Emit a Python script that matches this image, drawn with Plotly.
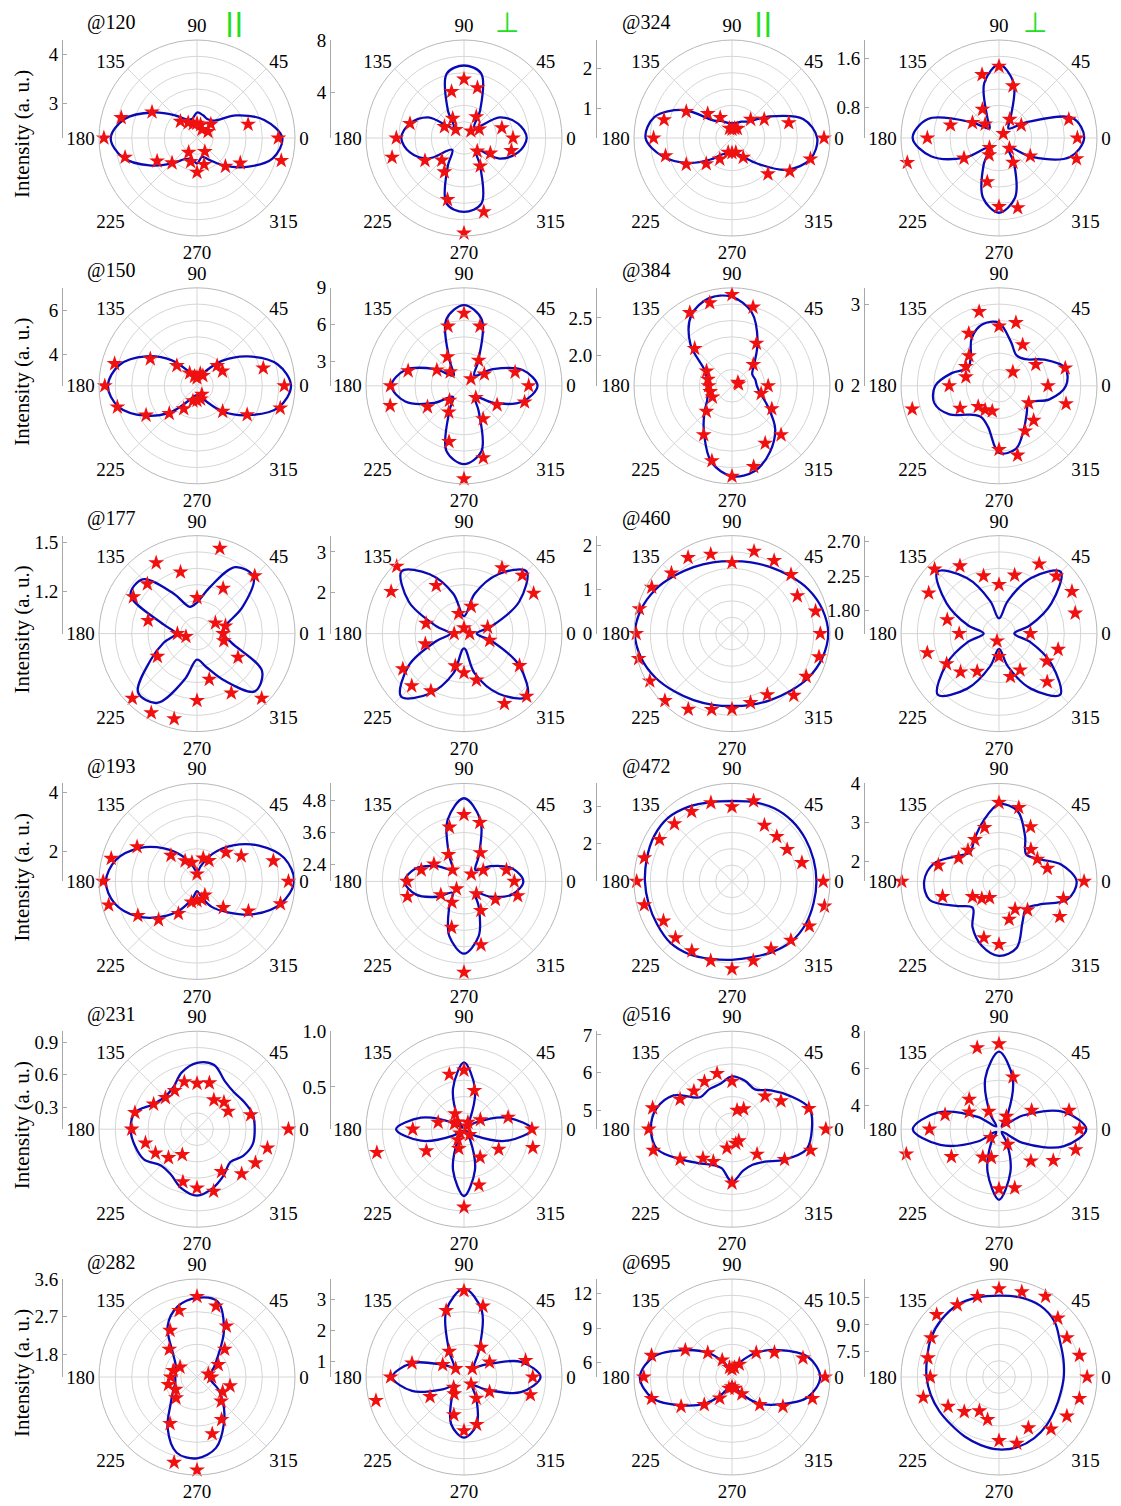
import plotly.graph_objects as go

W, H = 1121, 1506
ANGLES = list(range(0, 360, 15))
ANGLE_LABELS = ["0", "45", "90", "135", "180", "225", "270", "315"]

# Raman modes shown in each row (left pair of columns / right pair of columns)
modes_left = ["@120", "@150", "@177", "@193", "@231", "@282"]
modes_right = ["@324", "@384", "@460", "@472", "@516", "@695"]

# ---------------- row 1 ----------------
rng_120_par = [2.3, 4.3]
tk_120_par = ["3", "4"]
fit_120_par = [4.04, 3.72, 3.22, 2.80, 2.74, 2.78, 2.82, 2.70, 2.74, 2.96, 3.34, 3.82,
               4.06, 3.86, 3.42, 3.04, 2.80, 2.74, 2.82, 2.70, 2.82, 3.10, 3.48, 3.90]
pts_120_par = [3.96, 3.38, 2.56, 2.70, 2.50, 2.58, 2.60, 2.60, 2.66, 2.78, 3.36, 3.90,
               4.20, 3.82, 3.24, 3.02, 2.64, 2.80, 3.00, 2.86, 2.62, 3.12, 3.32, 4.08]

rng_120_per = [0.5, 8.0]
tk_120_per = ["4", "8"]
fit_120_per = [5.30, 4.78, 3.65, 1.63, 2.98, 5.60, 6.05, 5.60, 2.98, 1.63, 3.65, 4.78,
               5.30, 4.78, 3.65, 1.78, 2.98, 5.68, 6.16, 5.68, 2.98, 1.78, 3.65, 4.78]
pts_120_per = [4.25, 3.50, 1.85, 1.25, 2.38, 4.48, 5.00, 4.18, 2.23, 1.40, 2.23, 4.78,
               5.68, 6.20, 3.95, 2.90, 3.50, 5.38, 7.78, 6.35, 2.98, 1.93, 2.83, 4.25]

rng_324_par = [0.25, 2.7]
tk_324_par = ["1", "2"]
fit_324_par = [2.38, 2.09, 1.33, 0.84, 0.72, 0.64, 0.62, 0.64, 0.74, 0.86, 1.65, 2.26,
               2.41, 2.04, 1.50, 1.01, 0.72, 0.64, 0.59, 0.64, 0.79, 1.16, 1.84, 2.28]
pts_324_par = [2.55, 1.72, 1.18, 0.91, 0.52, 0.50, 0.47, 0.50, 0.84, 1.11, 1.57, 2.01,
               2.21, 1.97, 1.57, 1.16, 0.86, 0.62, 0.62, 0.62, 0.81, 1.52, 1.92, 2.28]

rng_324_per = [0.3, 1.9]
tk_324_per = ["0.8", "1.6"]
fit_324_per = [1.69, 1.55, 0.81, 0.52, 0.68, 1.23, 1.50, 1.23, 0.68, 0.52, 0.81, 1.50,
               1.71, 1.45, 0.94, 0.52, 0.80, 1.31, 1.52, 1.31, 0.80, 0.52, 0.92, 1.50]
pts_324_per = [1.58, 1.48, 0.72, 0.40, 0.65, 1.18, 1.47, 1.37, 0.84, 0.62, 0.80, 1.12,
               1.47, 1.85, 0.96, 0.52, 0.62, 1.04, 1.42, 1.48, 0.76, 0.54, 0.89, 1.61]

# ---------------- row 2 ----------------
rng_150_par = [2.6, 7.0]
tk_150_par = ["4", "6"]
fit_150_par = [6.82, 6.34, 5.24, 4.18, 3.35, 3.04, 2.93, 3.04, 3.35, 4.23, 5.24, 6.21,
               6.60, 6.25, 5.28, 4.27, 3.39, 3.08, 3.02, 3.08, 3.39, 4.23, 5.24, 6.38]
pts_150_par = [6.52, 5.68, 3.92, 3.88, 3.13, 3.17, 2.95, 3.04, 3.26, 3.88, 5.02, 6.43,
               6.74, 6.30, 5.24, 4.36, 3.79, 3.30, 3.26, 3.22, 3.04, 4.23, 5.20, 6.47]

rng_150_per = [1.0, 9.0]
tk_150_per = ["3", "6", "9"]
fit_150_per = [7.00, 5.96, 3.72, 2.20, 3.32, 6.60, 7.58, 6.60, 3.32, 2.20, 3.72, 5.96,
               6.92, 5.96, 3.80, 2.28, 3.40, 6.52, 7.40, 6.52, 3.40, 2.28, 3.80, 5.96]
pts_150_per = [6.28, 5.32, 2.92, 1.80, 3.40, 6.04, 6.92, 6.04, 3.72, 2.60, 3.56, 5.72,
               7.00, 7.24, 4.44, 2.68, 3.48, 5.72, 8.60, 7.08, 4.12, 2.36, 4.12, 6.12]

rng_384_par = [1.6, 2.9]
tk_384_par = ["2.0", "2.5"]
fit_384_par = [1.93, 1.92, 1.91, 2.02, 2.28, 2.61, 2.78, 2.80, 2.68, 2.38, 2.02, 1.94,
               1.89, 1.93, 1.98, 2.12, 2.34, 2.65, 2.80, 2.77, 2.61, 2.41, 2.15, 1.99]
pts_384_par = [2.08, 1.69, 1.69, 2.00, 2.25, 2.68, 2.81, 2.74, 2.72, 2.30, 1.99, 1.93,
               1.91, 1.90, 1.90, 2.08, 2.35, 2.63, 2.80, 2.71, 2.48, 2.52, 2.21, 2.00]

rng_384_per = [2.0, 3.2]
tk_384_per = ["2", "3"]
fit_384_per = [2.82, 2.84, 2.64, 2.46, 2.43, 2.56, 2.77, 2.78, 2.67, 2.49, 2.44, 2.60,
               2.78, 2.82, 2.70, 2.50, 2.44, 2.52, 2.82, 2.80, 2.61, 2.48, 2.42, 2.64]
pts_384_per = [2.60, 2.84, 2.52, 2.24, 2.58, 2.80, 2.73, 2.94, 2.74, 2.52, 2.47, 2.42,
               2.61, 3.10, 2.55, 2.36, 2.34, 2.32, 2.78, 2.88, 2.64, 2.60, 2.42, 2.85]

# ---------------- row 3 ----------------
rng_177_par = [0.94, 1.54]
tk_177_par = ["1.2", "1.5"]
fit_177_par = [1.10, 1.12, 1.26, 1.43, 1.41, 1.23, 1.13, 1.11, 1.22, 1.41, 1.41, 1.15,
               1.07, 1.15, 1.27, 1.45, 1.43, 1.23, 1.10, 1.15, 1.27, 1.44, 1.40, 1.16]
pts_177_par = [1.10, 1.12, 1.07, 1.44, 1.26, 1.48, 1.16, 1.33, 1.44, 1.37, 1.39, 1.25,
               1.06, 1.01, 1.22, 1.50, 1.50, 1.48, 1.35, 1.23, 1.36, 1.50, 1.23, 1.11]

rng_177_per = [1.0, 3.4]
tk_177_per = ["1", "2", "3"]
fit_177_per = [1.31, 1.70, 2.56, 3.16, 2.68, 2.01, 1.43, 2.01, 2.68, 3.16, 2.56, 1.70,
               1.34, 1.70, 2.56, 3.18, 2.70, 2.01, 1.36, 2.01, 2.70, 3.18, 2.56, 1.70]
pts_177_per = [1.14, 1.60, 2.97, 3.02, 2.86, 1.69, 1.14, 1.51, 2.36, 3.33, 3.06, 1.96,
               1.24, 1.98, 2.73, 2.81, 2.62, 1.82, 1.96, 2.18, 2.98, 3.17, 2.57, 1.65]

rng_460_par = [0.0, 2.22]
tk_460_par = ["0", "1", "2"]
fit_460_par = [2.18, 2.12, 2.00, 1.85, 1.74, 1.67, 1.64, 1.67, 1.74, 1.85, 2.00, 2.13,
               2.20, 2.13, 2.00, 1.85, 1.74, 1.67, 1.64, 1.67, 1.74, 1.85, 2.00, 2.12]
pts_460_par = [2.00, 1.96, 1.71, 1.89, 1.91, 1.93, 1.61, 1.86, 1.99, 1.94, 2.10, 2.17,
               2.17, 2.19, 2.15, 2.15, 1.98, 1.78, 1.71, 1.62, 1.60, 1.98, 1.94, 2.04]

rng_460_per = [1.5, 2.78]
tk_460_per = ["1.80", "2.25", "2.70"]
fit_460_per = [1.70, 1.92, 2.29, 2.64, 2.34, 1.94, 1.70, 1.94, 2.34, 2.64, 2.29, 1.92,
               1.70, 1.92, 2.29, 2.63, 2.33, 1.94, 1.70, 1.94, 2.33, 2.63, 2.29, 1.92]
pts_460_per = [1.91, 2.53, 2.60, 2.56, 2.55, 2.29, 2.14, 2.28, 2.52, 2.69, 2.56, 2.20,
               2.02, 2.47, 2.29, 2.21, 2.07, 1.60, 1.80, 2.08, 2.05, 2.39, 2.22, 2.30]

# ---------------- row 4 ----------------
rng_193_par = [1.0, 4.3]
tk_193_par = ["2", "4"]
fit_193_par = [4.27, 4.04, 3.41, 2.72, 2.09, 1.56, 1.31, 1.53, 1.99, 2.57, 3.24, 3.82,
               4.07, 3.87, 3.34, 2.68, 2.09, 1.59, 1.33, 1.53, 1.99, 2.47, 3.21, 3.92]
pts_193_par = [4.08, 3.66, 2.72, 2.38, 1.81, 1.81, 1.25, 1.66, 1.80, 2.24, 3.33, 3.99,
               4.16, 4.08, 3.30, 2.83, 2.25, 1.72, 1.65, 1.63, 1.53, 2.25, 3.00, 3.91]

rng_193_per = [1.75, 5.45]
tk_193_per = ["2.4", "3.6", "4.8"]
fit_193_per = [3.99, 3.64, 2.91, 2.36, 2.87, 4.15, 4.89, 4.15, 2.87, 2.36, 2.91, 3.64,
               3.99, 3.64, 2.91, 2.36, 2.87, 3.89, 4.48, 3.89, 2.87, 2.36, 2.91, 3.64]
pts_193_per = [3.65, 3.41, 2.59, 2.14, 3.00, 4.05, 4.27, 3.87, 2.92, 2.36, 3.06, 3.42,
               3.90, 3.96, 2.76, 2.15, 2.66, 3.55, 5.18, 4.23, 3.02, 2.41, 3.12, 3.85]

rng_472_par = [1.0, 3.6]
tk_472_par = ["2", "3"]
fit_472_par = [3.24, 3.24, 3.25, 3.26, 3.24, 3.18, 3.13, 3.18, 3.29, 3.39, 3.39, 3.34,
               3.31, 3.29, 3.29, 3.31, 3.24, 3.13, 3.08, 3.08, 3.16, 3.24, 3.26, 3.24]
pts_472_par = [3.42, 2.92, 2.69, 2.68, 2.72, 3.21, 2.98, 3.16, 3.14, 3.16, 3.22, 3.41,
               3.53, 3.41, 3.10, 3.12, 3.13, 3.18, 3.32, 3.18, 3.07, 3.21, 3.37, 3.54]

rng_472_per = [1.5, 4.0]
tk_472_per = ["2", "3", "4"]
fit_472_per = [3.48, 3.15, 2.65, 2.48, 2.83, 3.35, 3.47, 3.08, 2.75, 2.55, 2.78, 3.23,
               3.41, 3.33, 2.75, 2.45, 2.85, 3.20, 3.40, 3.25, 2.70, 2.48, 2.68, 3.30]
pts_472_per = [3.67, 2.78, 2.63, 2.65, 3.11, 3.45, 3.51, 2.92, 2.73, 2.62, 2.69, 3.10,
               3.98, 2.99, 2.28, 2.12, 1.98, 2.99, 3.11, 2.50, 2.32, 2.53, 3.29, 3.20]

# ---------------- row 5 ----------------
rng_231_par = [0.1, 1.0]
tk_231_par = ["0.3", "0.6", "0.9"]
fit_231_par = [0.63, 0.63, 0.60, 0.58, 0.61, 0.71, 0.71, 0.64, 0.54, 0.52, 0.56, 0.69,
               0.71, 0.69, 0.66, 0.57, 0.58, 0.66, 0.71, 0.66, 0.59, 0.53, 0.59, 0.63]
pts_231_par = [0.94, 0.61, 0.43, 0.45, 0.41, 0.54, 0.52, 0.55, 0.51, 0.51, 0.56, 0.69,
               0.70, 0.59, 0.54, 0.47, 0.37, 0.60, 0.64, 0.69, 0.55, 0.68, 0.72, 0.77]

rng_231_per = [0.12, 1.0]
tk_231_per = ["0.5", "1.0"]
fit_231_per = [0.73, 0.52, 0.24, 0.14, 0.23, 0.50, 0.72, 0.50, 0.23, 0.14, 0.24, 0.52,
               0.73, 0.52, 0.24, 0.14, 0.23, 0.50, 0.72, 0.50, 0.23, 0.14, 0.24, 0.52]
pts_231_per = [0.73, 0.53, 0.29, 0.16, 0.19, 0.48, 0.65, 0.63, 0.28, 0.21, 0.22, 0.36,
               0.58, 0.93, 0.51, 0.17, 0.23, 0.30, 0.82, 0.64, 0.41, 0.19, 0.48, 0.76]

rng_516_par = [4.5, 7.1]
tk_516_par = ["5", "6", "7"]
fit_516_par = [6.62, 6.63, 6.27, 5.96, 5.72, 5.83, 5.90, 5.74, 5.72, 5.70, 6.29, 6.58,
               6.65, 6.55, 6.09, 5.77, 5.59, 5.57, 5.90, 5.64, 5.59, 5.72, 6.11, 6.55]
pts_516_par = [6.99, 6.61, 6.00, 5.74, 5.12, 5.02, 5.77, 6.03, 5.96, 5.93, 6.09, 6.68,
               6.71, 6.66, 6.09, 5.59, 5.49, 5.02, 5.93, 4.89, 4.86, 5.44, 6.11, 6.66]

rng_516_per = [2.7, 8.0]
tk_516_per = ["4", "6", "8"]
fit_516_per = [7.42, 6.30, 4.18, 2.91, 3.65, 5.56, 6.89, 5.56, 3.65, 2.91, 4.03, 6.15,
               7.36, 5.99, 4.03, 2.91, 3.55, 5.09, 6.52, 5.09, 3.55, 2.91, 4.18, 6.30]
pts_516_per = [7.05, 6.62, 4.74, 3.23, 3.50, 5.62, 7.31, 7.26, 3.81, 4.98, 4.56, 5.72,
               6.46, 7.89, 5.67, 3.34, 4.45, 4.29, 5.93, 5.99, 3.65, 5.14, 6.09, 6.99]

# ---------------- row 6 ----------------
rng_282_par = [1.25, 3.6]
tk_282_par = ["1.8", "2.7", "3.6"]
fit_282_par = [1.53, 1.58, 1.72, 1.96, 2.54, 3.13, 3.15, 3.01, 2.66, 2.07, 1.84, 1.77,
               1.77, 1.79, 1.91, 2.14, 2.66, 3.13, 3.20, 3.01, 2.54, 2.14, 1.84, 1.60]
pts_282_par = [1.60, 1.53, 1.84, 2.19, 2.66, 3.01, 3.18, 2.90, 2.54, 2.19, 1.72, 1.84,
               1.88, 1.96, 1.84, 1.96, 2.54, 3.37, 3.48, 2.66, 2.43, 2.07, 1.96, 2.07]

rng_282_per = [0.5, 3.65]
tk_282_per = ["1", "2", "3"]
fit_282_per = [2.96, 2.39, 1.29, 0.97, 1.45, 2.71, 3.34, 2.71, 1.45, 0.97, 1.29, 2.23,
               2.80, 2.23, 1.29, 0.88, 1.29, 2.08, 2.45, 2.08, 1.29, 0.88, 1.29, 2.39]
pts_282_per = [2.71, 2.55, 1.45, 0.88, 1.60, 2.86, 3.27, 2.71, 1.45, 0.88, 1.29, 2.23,
               2.86, 3.43, 1.76, 0.97, 1.13, 1.76, 2.23, 2.08, 1.29, 0.82, 1.45, 2.71]

rng_695_par = [4.7, 13.3]
tk_695_par = ["6", "9", "12"]
fit_695_par = [12.44, 11.58, 9.43, 7.71, 6.25, 5.39, 5.13, 5.39, 6.25, 7.71, 9.43, 11.75,
               12.78, 11.92, 9.69, 7.97, 6.42, 5.56, 5.22, 5.56, 6.42, 7.97, 9.52, 11.58]
pts_695_par = [12.87, 11.15, 9.00, 7.71, 5.99, 5.56, 5.39, 5.56, 6.42, 7.71, 9.43, 12.01,
               12.44, 12.01, 9.86, 8.14, 6.85, 5.73, 5.56, 5.73, 6.42, 8.14, 9.86, 12.01]

rng_695_per = [6.1, 11.55]
tk_695_per = ["7.5", "9.0", "10.5"]
fit_695_per = [9.70, 9.81, 10.02, 10.46, 10.68, 10.68, 10.62, 10.68, 10.73, 10.62, 10.46, 10.24,
               10.13, 10.02, 9.92, 9.86, 9.92, 10.02, 10.13, 10.13, 10.02, 9.86, 9.70, 9.64]
pts_695_per = [11.00, 10.73, 10.46, 10.73, 11.28, 11.00, 11.00, 10.73, 10.73, 11.00, 10.46, 10.19,
               9.92, 10.46, 9.37, 8.83, 8.28, 8.55, 9.64, 9.92, 9.37, 10.19, 10.46, 10.73]

panels = [
    [(rng_120_par, tk_120_par, fit_120_par, pts_120_par), (rng_120_per, tk_120_per, fit_120_per, pts_120_per),
     (rng_324_par, tk_324_par, fit_324_par, pts_324_par), (rng_324_per, tk_324_per, fit_324_per, pts_324_per)],
    [(rng_150_par, tk_150_par, fit_150_par, pts_150_par), (rng_150_per, tk_150_per, fit_150_per, pts_150_per),
     (rng_384_par, tk_384_par, fit_384_par, pts_384_par), (rng_384_per, tk_384_per, fit_384_per, pts_384_per)],
    [(rng_177_par, tk_177_par, fit_177_par, pts_177_par), (rng_177_per, tk_177_per, fit_177_per, pts_177_per),
     (rng_460_par, tk_460_par, fit_460_par, pts_460_par), (rng_460_per, tk_460_per, fit_460_per, pts_460_per)],
    [(rng_193_par, tk_193_par, fit_193_par, pts_193_par), (rng_193_per, tk_193_per, fit_193_per, pts_193_per),
     (rng_472_par, tk_472_par, fit_472_par, pts_472_par), (rng_472_per, tk_472_per, fit_472_per, pts_472_per)],
    [(rng_231_par, tk_231_par, fit_231_par, pts_231_par), (rng_231_per, tk_231_per, fit_231_per, pts_231_per),
     (rng_516_par, tk_516_par, fit_516_par, pts_516_par), (rng_516_per, tk_516_per, fit_516_per, pts_516_per)],
    [(rng_282_par, tk_282_par, fit_282_par, pts_282_par), (rng_282_per, tk_282_per, fit_282_per, pts_282_per),
     (rng_695_par, tk_695_par, fit_695_par, pts_695_par), (rng_695_per, tk_695_per, fit_695_per, pts_695_per)],
]

# ---------------- geometry (pixels) ----------------
R = 98
COL_CX = [197, 464, 732, 999]
ROW_CY0, ROW_STEP = 138, 247.8
SCALE_X = [63, 331, 597, 865]

SERIF = "Liberation Serif, Times New Roman, serif"
GRID = "#d6d6d6"
RIM = "#b8b8b8"
FIT_BLUE = "#0a0ab4"
STAR_RED = "#f01010"

fig = go.Figure()
layout = dict(
    width=W, height=H,
    margin=dict(l=0, r=0, t=0, b=0, pad=0, autoexpand=False),
    paper_bgcolor="white", plot_bgcolor="rgba(0,0,0,0)",
    showlegend=False,
    font=dict(family=SERIF, size=19, color="black"),
)
annotations = []

k = 0
for i, row in enumerate(panels):
    cy = ROW_CY0 + ROW_STEP * i
    for j, (rng, ticks, fit, pts) in enumerate(row):
        k += 1
        cx = COL_CX[j]
        pkey = "polar" if k == 1 else f"polar{k}"
        span = rng[1] - rng[0]
        layout[pkey] = dict(
            domain=dict(x=[(cx - R) / W, (cx + R) / W],
                        y=[1 - (cy + R) / H, 1 - (cy - R) / H]),
            bgcolor="white",
            angularaxis=dict(
                direction="counterclockwise", rotation=0,
                tickmode="array", tickvals=list(range(0, 360, 45)), ticktext=ANGLE_LABELS,
                showgrid=True, gridcolor=GRID, gridwidth=1,
                showline=True, linecolor=RIM, linewidth=1,
                ticks="", tickfont=dict(family=SERIF, size=19, color="black"),
            ),
            radialaxis=dict(
                range=rng, tickmode="array",
                tickvals=[rng[0] + span * n / 6 for n in range(1, 6)],
                showticklabels=False, ticks="", showline=False,
                showgrid=True, gridcolor=GRID, gridwidth=1,
            ),
        )
        theta_closed = ANGLES + [ANGLES[0]]
        fig.add_trace(go.Scatterpolar(
            r=fit + [fit[0]], theta=theta_closed, mode="lines",
            line=dict(color=FIT_BLUE, width=2.3, shape="spline", smoothing=1.0),
            subplot=pkey, hoverinfo="skip",
        ))
        fig.add_trace(go.Scatterpolar(
            r=pts, theta=ANGLES, mode="markers",
            marker=dict(symbol="star", size=12, color=STAR_RED, line=dict(width=0)),
            subplot=pkey, hoverinfo="skip",
        ))

        # vertical intensity scale to the left of every polar plot
        xkey = "xaxis" if k == 1 else f"xaxis{k}"
        ykey = "yaxis" if k == 1 else f"yaxis{k}"
        xa = "x" if k == 1 else f"x{k}"
        ya = "y" if k == 1 else f"y{k}"
        sx = SCALE_X[j]
        layout[xkey] = dict(domain=[sx / W, (sx + 4) / W], anchor=ya, visible=False,
                            range=[0, 1], fixedrange=True)
        layout[ykey] = dict(
            domain=[1 - cy / H, 1 - (cy - R) / H], anchor=xa, side="left",
            range=rng, showline=True, linecolor="#a8a8a8", linewidth=1,
            tickmode="array", tickvals=[float(t) for t in ticks], ticktext=ticks,
            ticks="inside", ticklen=4, tickcolor="#a8a8a8",
            showgrid=False, zeroline=False, fixedrange=True, automargin=False,
            tickfont=dict(family=SERIF, size=19, color="black"),
        )
        fig.add_trace(go.Scatter(x=[None], y=[None], xaxis=xa, yaxis=ya,
                                 mode="markers", hoverinfo="skip"))

    # mode labels and axis title for the row
    for j, label in ((0, modes_left[i]), (2, modes_right[i])):
        annotations.append(dict(
            text=label, x=(COL_CX[j] - 86) / W, y=1 - (cy - 115) / H,
            xref="paper", yref="paper", xanchor="center", yanchor="middle",
            showarrow=False, font=dict(family=SERIF, size=20, color="black"),
        ))
    annotations.append(dict(
        text="Intensity (a. u.)", x=22 / W, y=1 - (cy - 4) / H,
        xref="paper", yref="paper", xanchor="center", yanchor="middle",
        showarrow=False, textangle=-90,
        font=dict(family=SERIF, size=21, color="black"),
    ))

# polarisation configuration markers above the first row
for j, sym, dx, size in ((0, "<b>||</b>", 37, 25), (1, "⊥", 43, 28),
                         (2, "<b>||</b>", 31, 25), (3, "⊥", 36, 28)):
    annotations.append(dict(
        text=sym, x=(COL_CX[j] + dx) / W, y=1 - 23 / H,
        xref="paper", yref="paper", xanchor="center", yanchor="middle",
        showarrow=False,
        font=dict(family="DejaVu Sans, sans-serif", size=size, color="#22dd22"),
    ))

layout["annotations"] = annotations
fig.update_layout(**layout)
fig.write_html("out.html")
